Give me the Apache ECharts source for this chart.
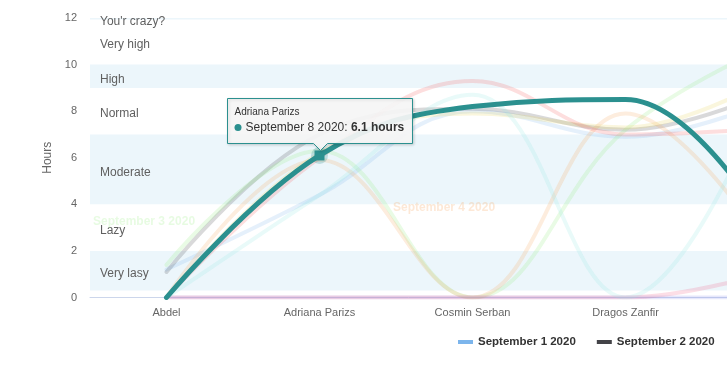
<!DOCTYPE html>
<html>
<head>
<meta charset="utf-8">
<script src="https://cdn.jsdelivr.net/npm/echarts@6/dist/echarts.min.js"></script>
<style>
html,body{margin:0;padding:0;background:#fff;}
#chart{width:727px;height:373px;}
</style>
</head>
<body>
<div id="chart"></div>
<script>
// ---- data ----
const categories = ['Abdel', 'Adriana Parizs', 'Cosmin Serban', 'Dragos Zanfir', ''];
const seriesNames = ['September 1 2020', 'September 2 2020', 'September 3 2020', 'September 4 2020',
  'September 5 2020', 'September 6 2020', 'September 7 2020', 'September 8 2020',
  'September 9 2020', 'September 10 2020'];
const sep1 = [1.2, 4.4, 8.0, 6.9, 8.6];
const sep2 = [1.1, 7.0, 8.1, 7.2, 9.0];
const sep3 = [1.4, 6.3, 0, 7.2, 11.0];
const sep4 = [0, 5.9, 0, 7.9, 1.5];
const sep5 = [0, 0, 0, 0, 0];
const sep6 = [0, 0, 0, 0, 1.2];
const sep7 = [0, 6.2, 7.9, 7.3, 9.6];
const sep8 = [0, 6.1, 8.2, 8.5, 2.3];
const sep9 = [0, 6.0, 9.3, 7.0, 7.3];
const sep10 = [0, 4.4, 8.7, 0, 10.0];
const allSeries = [sep1, sep2, sep3, sep4, sep5, sep6, sep7, sep8, sep9, sep10];
const bandLabels = ['Very lasy', 'Lazy', 'Moderate', 'Normal', 'High', 'Very high', "You'r crazy?"];
const bandFrom = [0.3, 2, 4, 7, 9, 10, 11.94];
const bandTo = [2, 4, 7, 9, 10, 12, 12];
const bandFilled = [true, false, true, false, true, false, true];
const legendNames = ['September 1 2020', 'September 2 2020'];
const hoverSeries = 7;   // September 8 2020
const hoverIndex = 1;    // Adriana Parizs
const valueSuffix = ' hours';

// ---- styles ----
const FONT = '"Liberation Sans", Arial, sans-serif';
const colors = ['#7cb5ec', '#434348', '#90ed7d', '#f7a35c', '#8085e9', '#f15c80', '#e4d354', '#2b908f', '#f45b5b', '#91e8e1'];
const bandColor = 'rgba(68,170,213,0.1)';

const chart = echarts.init(document.getElementById('chart'), null, {renderer: 'canvas'});

const markAreaData = bandLabels.map((lab, i) => [
  {
    yAxis: bandFrom[i],
    name: lab,
    itemStyle: {color: bandFilled[i] ? bandColor : 'rgba(0,0,0,0)'},
    label: {show: true, position: 'insideLeft', distance: 10, offset: [0, 3],
      color: '#606060', fontSize: 12, fontFamily: FONT, formatter: lab}
  },
  {yAxis: bandTo[i]}
]);

const series = allSeries.map((vals, i) => {
  const hovered = i === hoverSeries;
  const s = {
    name: seriesNames[i],
    type: 'line',
    data: vals,
    smooth: 0.4,
    symbol: 'none',
    silent: true,
    z: hovered ? 4 : 2,
    color: colors[i],
    lineStyle: {width: hovered ? 5 : 4, color: colors[i], opacity: hovered ? 1 : 0.2, cap: 'round', join: 'round'},
    itemStyle: {color: colors[i]}
  };
  if (hovered) {
    s.markPoint = {
      silent: true,
      label: {show: false},
      data: [
        {coord: [hoverIndex, vals[hoverIndex]], symbol: 'circle', symbolSize: 17,
          itemStyle: {color: 'rgba(43,144,143,0.25)'}},
        {coord: [hoverIndex, vals[hoverIndex]], symbol: 'rect', symbolSize: 10,
          itemStyle: {color: colors[i]}}
      ]
    };
  }
  return s;
});

// plot bands carried by an empty helper series
series.unshift({
  name: '__bands',
  type: 'line',
  data: [],
  silent: true,
  z: 1,
  markArea: {silent: true, data: markAreaData}
});

chart.setOption({
  animation: false,
  textStyle: {fontFamily: FONT},
  grid: {left: 90, top: 18, width: 765, height: 279.5, containLabel: false, outerBoundsMode: 'none'},
  legend: {
    data: legendNames.map((n) => ({name: n, icon: 'rect',
      itemStyle: {color: colors[seriesNames.indexOf(n)], opacity: 1, borderWidth: 0}})),
    left: 458, top: 336, padding: 0,
    itemWidth: 15, itemHeight: 4, itemGap: 21,
    selectedMode: false,
    textStyle: {fontFamily: FONT, fontWeight: 'bold', fontSize: 11.5, color: '#333333'}
  },
  xAxis: {
    type: 'category',
    data: categories,
    boundaryGap: true,
    axisLine: {lineStyle: {color: '#ccd6eb', width: 1}},
    axisTick: {show: false},
    axisLabel: {color: '#666666', fontSize: 11, margin: 10, fontFamily: FONT},
    splitLine: {show: false}
  },
  yAxis: {
    type: 'value',
    min: 0, max: 12, interval: 2,
    name: 'Hours',
    nameLocation: 'middle',
    nameGap: 33,
    nameRotate: 90,
    nameTextStyle: {color: '#666666', fontSize: 12, fontFamily: FONT},
    axisLine: {show: false},
    axisTick: {show: false},
    splitLine: {show: false},
    axisLabel: {color: '#666666', fontSize: 11, margin: 13, fontFamily: FONT}
  },
  series: series
});

// ---- tooltip callout and series labels ----
const hv = allSeries[hoverSeries][hoverIndex];
const p = chart.convertToPixel({seriesIndex: hoverSeries + 1}, [hoverIndex, hv]);
const W = 185, H = 45;
const L = Math.round(p[0] - W / 2) + 0.5;
const T = Math.round(p[1] - 57) + 0.5;
const B = T + H;
const cx = Math.round(p[0]) + 0.5;

chart.setOption({
  graphic: [
    {type: 'text', left: 93, top: 216, silent: true, z: 3,
      style: {text: seriesNames[2], fill: colors[2], opacity: 0.22, font: 'bold 12px ' + FONT}},
    {type: 'text', left: 393, top: 202, silent: true, z: 3,
      style: {text: seriesNames[3], fill: colors[3], opacity: 0.25, font: 'bold 12px ' + FONT}},
    {type: 'polygon', silent: true, z: 100,
      shape: {points: [[L, T], [L + W, T], [L + W, B], [cx + 7, B], [cx, B + 7], [cx - 7, B], [L, B]]},
      style: {fill: 'rgba(249,249,249,0.92)', stroke: colors[hoverSeries], lineWidth: 1,
        shadowBlur: 3, shadowOffsetX: 1, shadowOffsetY: 1, shadowColor: 'rgba(0,0,0,0.18)'}},
    {type: 'text', x: L + 7, y: T + 14, silent: true, z: 101,
      style: {text: categories[hoverIndex], fill: '#333333', font: '10px ' + FONT, verticalAlign: 'middle'}},
    {type: 'circle', silent: true, z: 101,
      shape: {cx: L + 10.5, cy: T + 29, r: 3.5}, style: {fill: colors[hoverSeries]}},
    {type: 'text', x: L + 18, y: T + 29, silent: true, z: 101,
      style: {
        text: seriesNames[hoverSeries] + ': {b|' + hv + valueSuffix + '}',
        fill: '#333333', font: '12px ' + FONT, verticalAlign: 'middle',
        rich: {b: {fontWeight: 'bold', fontSize: 12, fontFamily: FONT, fill: '#333333'}}
      }}
  ]
});
</script>
</body>
</html>
